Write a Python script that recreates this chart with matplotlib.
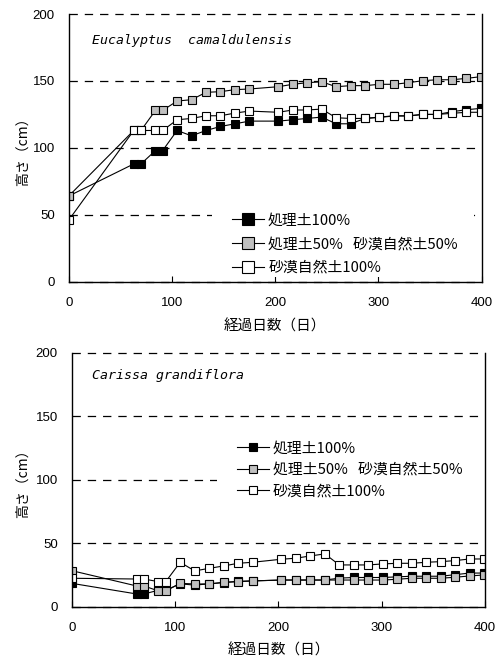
import matplotlib
matplotlib.use("Agg")
import matplotlib.pyplot as plt
from matplotlib.patches import Rectangle

plt.rcParams['lines.scale_dashes'] = False
plt.rcParams['font.family'] = ['Noto Sans CJK JP', 'DejaVu Sans']

days = [0, 63, 70, 84, 91, 105, 119, 133, 147, 161, 175, 203, 217, 231, 245,
        259, 273, 287, 301, 315, 329, 343, 357, 371, 385, 399]

euc_treated = [64, 88, 88, 98, 98, 113, 109, 113, 116, 118, 120, 120, 121, 122, 123,
               118, 118, 122, 123, 124, 124, 125, 125, 127, 128.5, 129.5]
euc_mixed = [64, 113, 113, 128, 128, 135, 136, 141.5, 142, 143.5, 144, 145.7, 147.5, 148.7, 149.4,
             145.7, 146.5, 146.5, 147.5, 147.5, 148.7, 150.2, 150.9, 150.9, 151.9, 153.2]
euc_desert = [46, 113, 113, 113, 113, 121, 122, 124, 124, 126, 127.5, 126.6, 128.3, 128.3, 129,
              122.5, 122, 122, 122.8, 123.8, 123.8, 125, 125, 125.8, 126.6, 126.6]

car_treated = [18.4, 10, 10, 13, 13, 18, 17, 18, 19, 20, 20.3, 21, 21, 21, 21,
               22.5, 23, 23, 23, 23.5, 24, 24, 24, 25.2, 26.5, 26.5]
car_mixed = [28.4, 16.3, 16.3, 12.4, 12.4, 18.4, 17.9, 17.9, 19.2, 19.7, 20.3, 21, 21, 21, 21,
             21, 21, 21, 21, 21.6, 22.4, 22.4, 22.4, 23.2, 24.2, 25]
car_desert = [22.4, 21.8, 21.8, 19.7, 19.7, 35, 28.2, 30.2, 32.1, 34.2, 35, 37.4, 38.2, 40, 41.6,
              32.9, 32.9, 32.9, 33.7, 34.2, 34.2, 35, 35.5, 36.3, 37.6, 37.6]

series_labels = ['処理土100%', '処理土50%   砂漠自然土50%', '砂漠自然土100%']
series_colors = ['black', '#c0c0c0', 'white']
titles = ['Eucalyptus  camaldulensis', 'Carissa grandiflora']
xticks = [0, 100, 200, 300, 400]
yticks = [0, 50, 100, 150, 200]
xlabel = '経過日数（日）'
ylabel = '高さ（cm）'

fig = plt.figure(figsize=(5, 6.59), dpi=100)
ax1 = fig.add_axes([0.1374, 0.5725, 0.8260, 0.4062])
ax2 = fig.add_axes([0.1434, 0.0794, 0.8266, 0.3850])

panels = [
    (ax1, [euc_treated, euc_mixed, euc_desert], titles[0], (0.0557, 0.900), (0.3947, 0.1400), 1.45, 0.65, (-0.094, -0.139)),
    (ax2, [car_treated, car_mixed, car_desert], titles[1], (0.048, 0.913), (0.399, 0.539), 1.05, 0.5, (-0.101, -0.143)),
]

legends = []
for ax, data, title, tpos, lpos, mscale, lsp, lab in panels:
    for vals, col, lbl in zip(data, series_colors, series_labels):
        ax.plot(days, vals, color='black', lw=0.8, marker='s', ms=5.6,
                mfc=col, mec='black', mew=0.8, label=lbl, zorder=3)
    ax.set_xlim(0, 400)
    ax.set_ylim(0, 200)
    ax.set_xticks(xticks)
    ax.set_yticks(yticks)
    ax.yaxis.grid(True, color='black', lw=0.9, ls=(0, (6.0, 5.0)))
    for gl in ax.get_ygridlines():
        gl.set_clip_on(False)
    ax.spines['top'].set_visible(False)
    for s in ['left', 'right', 'bottom']:
        ax.spines[s].set_linewidth(1.0)
        ax.spines[s].set_zorder(6)
    ax.tick_params(axis='x', direction='in', length=4, width=0.8, pad=11)
    ax.tick_params(axis='y', direction='in', length=0, pad=10)
    for t in ax.get_xticklabels() + ax.get_yticklabels():
        t.set_fontfamily('Liberation Sans')
        t.set_fontsize(9.5)
    ax.text(tpos[0], tpos[1], title, transform=ax.transAxes, fontsize=9.5,
            family='DejaVu Sans Mono', style='italic', va='center', ha='left')
    ax.set_xlabel(xlabel, fontsize=10.5)
    ax.set_ylabel(ylabel, fontsize=10)
    ax.xaxis.set_label_coords(0.5, lab[1])
    ax.yaxis.set_label_coords(lab[0], 0.5)
    leg = ax.legend(loc='center left', bbox_to_anchor=lpos, frameon=False,
                    borderpad=0, borderaxespad=0, handlelength=2.2, handletextpad=0.25,
                    labelspacing=lsp, markerscale=mscale, fontsize=10.7)
    leg.set_zorder(5)
    legends.append((ax, leg, lpos))

fig.canvas.draw()
renderer = fig.canvas.get_renderer()
for ax, leg, lpos in legends:
    tb = [t.get_window_extent(renderer) for t in leg.get_texts()]
    axb = ax.get_window_extent(renderer)
    x0 = axb.x0 + lpos[0] * axb.width - 20
    x1 = max(b.x1 for b in tb) + 16
    y0 = min(b.y0 for b in tb) - 2
    y1 = max(b.y1 for b in tb) + 2
    r = Rectangle((x0, y0), x1 - x0, y1 - y0, transform=None,
                  facecolor='white', edgecolor='none', zorder=1.8)
    ax.add_artist(r)

fig.savefig('out.png', dpi=100)
